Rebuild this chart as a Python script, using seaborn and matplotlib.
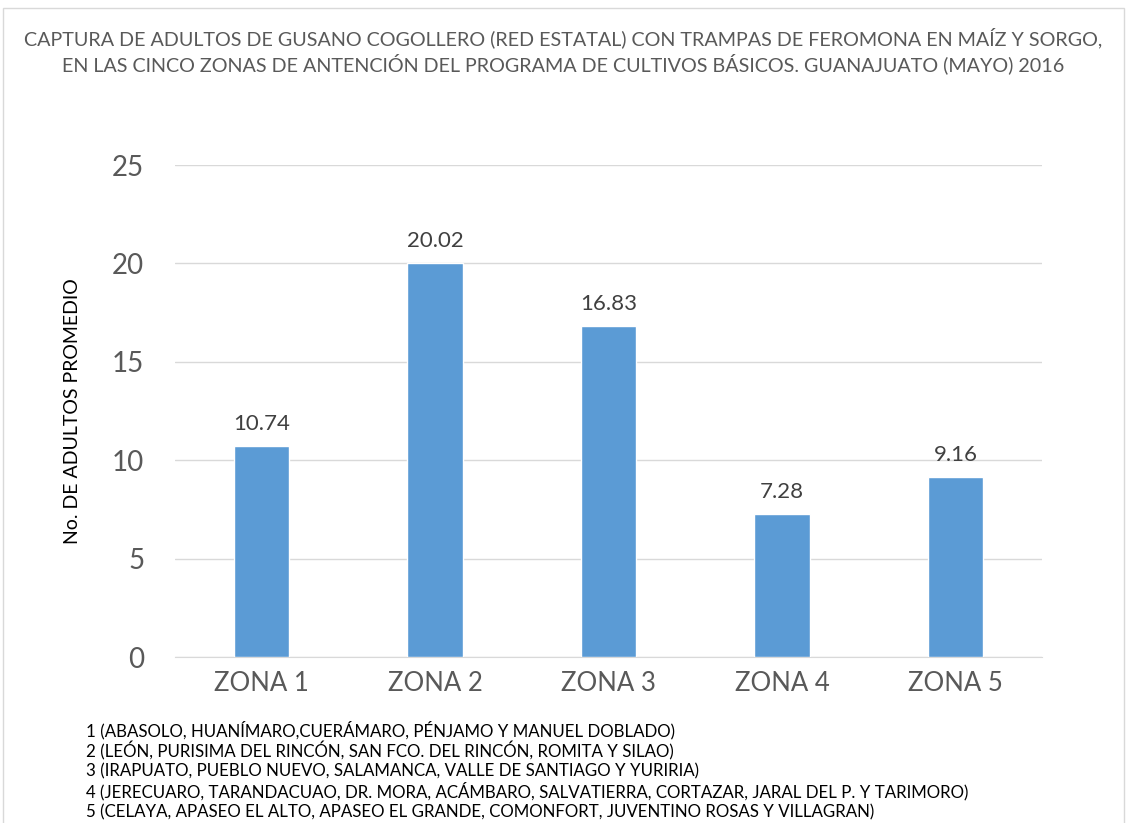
import matplotlib
matplotlib.use('Agg')
import matplotlib.pyplot as plt
import seaborn as sns
import pandas as pd
from matplotlib.patches import Rectangle

# datos
zonas = ["ZONA 1", "ZONA 2", "ZONA 3", "ZONA 4", "ZONA 5"]
adultos = [10.74, 20.02, 16.83, 7.28, 9.16]
notas = [
    "1 (ABASOLO, HUANÍMARO,CUERÁMARO, PÉNJAMO Y MANUEL DOBLADO)",
    "2 (LEÓN, PURISIMA DEL RINCÓN, SAN FCO. DEL RINCÓN, ROMITA Y SILAO)",
    "3 (IRAPUATO, PUEBLO NUEVO, SALAMANCA, VALLE DE SANTIAGO Y YURIRIA)",
    "4 (JERECUARO, TARANDACUAO, DR. MORA, ACÁMBARO, SALVATIERRA, CORTAZAR, JARAL DEL P. Y TARIMORO)",
    "5 (CELAYA, APASEO EL ALTO, APASEO EL GRANDE, COMONFORT, JUVENTINO ROSAS Y VILLAGRAN)",
]
titulo = ("CAPTURA DE ADULTOS DE GUSANO COGOLLERO (RED ESTATAL) CON TRAMPAS DE FEROMONA EN MAÍZ Y SORGO,\n"
          "EN LAS CINCO ZONAS DE ANTENCIÓN DEL PROGRAMA DE CULTIVOS BÁSICOS. GUANAJUATO (MAYO) 2016")

df = pd.DataFrame({"zona": zonas, "adultos": adultos})

sns.set_style("white")
plt.rcParams['font.family'] = ['Lato', 'DejaVu Sans']
gris = "#595959"

fig = plt.figure(figsize=(11.27, 8.23), dpi=100)
ax = fig.add_axes([0.155, 0.2017, 0.77, 0.5978])

sns.barplot(data=df, x="zona", y="adultos", color="#5B9BD5", width=0.32,
            saturation=1, ax=ax, zorder=3)

ax.set_ylim(0, 25)
ax.set_yticks([0, 5, 10, 15, 20, 25])
ax.yaxis.grid(True, color="#D9D9D9", linewidth=1, zorder=0)
for s in ["top", "right", "left"]:
    ax.spines[s].set_visible(False)
ax.spines["bottom"].set_color("#D9D9D9")
ax.tick_params(axis="y", labelsize=20, colors=gris, length=0, pad=22)
ax.tick_params(axis="x", labelsize=18.5, colors=gris, length=0, pad=10)
ax.set_xlabel("")
ax.set_ylabel("No. DE ADULTOS PROMEDIO", fontsize=14, color="black", labelpad=22)

for p, v in zip(ax.patches, adultos):
    ax.text(p.get_x() + p.get_width() / 2, v + 0.6, f"{v:.2f}",
            ha="center", va="bottom", fontsize=16, color="#404040")

fig.text(0.5, 0.967, titulo, ha="center", va="top", fontsize=14.2,
         color=gris, linespacing=1.3)

for i, n in enumerate(notas):
    fig.text(0.076, 1 - (730 + i * 20.5) / 823, n, ha="left", va="center",
             fontsize=12.2, color="black")

fig.patches.append(Rectangle((0.003, -0.01), 0.994, 1.0, transform=fig.transFigure,
                             fill=False, edgecolor="#D9D9D9", linewidth=1))

fig.savefig("out.png", dpi=100)
